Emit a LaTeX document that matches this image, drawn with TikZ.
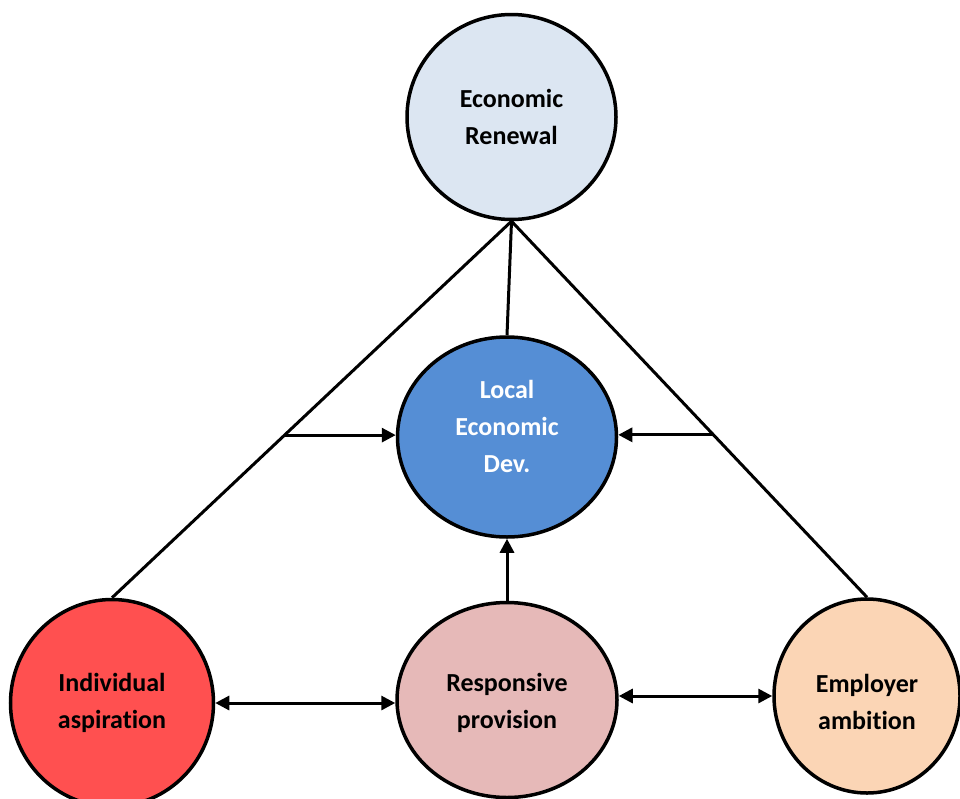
\documentclass[tikz,border=0pt]{standalone}
\usepackage{fontspec}
\setmainfont{Carlito}[Ligatures={NoCommon}]
\usetikzlibrary{shapes.geometric,arrows.meta,calc}
\definecolor{erfill}{HTML}{DCE6F2}
\definecolor{ledfill}{HTML}{558ED5}
\definecolor{iafill}{HTML}{FF5050}
\definecolor{rpfill}{HTML}{E6B9B8}
\definecolor{eafill}{HTML}{FBD5B5}
\tikzset{
  bub/.style={ellipse, draw=black, line width=3.5pt, align=center, inner sep=0pt,
    font=\fontsize{26}{37}\selectfont\bfseries},
  conn/.style={line width=3pt},
  arr/.style={line width=3pt, -{Triangle[length=14pt,width=14pt]}},
  darr/.style={line width=3pt, {Triangle[length=14pt,width=14pt]}-{Triangle[length=14pt,width=14pt]}}
}
\begin{document}
\begin{tikzpicture}[x=1pt,y=-1pt]
\useasboundingbox (0,0) rectangle (960,798);
\node[bub, fill=erfill, minimum width=209pt, minimum height=205pt] (er) at (511.5,117) {Economic\\Renewal};
\node[bub, fill=ledfill, text=white, minimum width=219pt, minimum height=200pt] (led) at (507,437) {Local\\Economic\\Dev.\rule[-22pt]{0pt}{0pt}};
\node[bub, fill=iafill, minimum width=203pt, minimum height=207pt] (ia) at (112,703) {Individual\\aspiration};
\node[bub, fill=rpfill, minimum width=220pt, minimum height=195pt] (rp) at (507,700) {\rule{0pt}{25pt}Responsive\\provision};
\node[bub, fill=eafill, minimum width=186pt, minimum height=194pt] (ea) at (867,696) {\rule{0pt}{31pt}Employer\\ambition};
\draw[conn] (er.south) -- (ia.north);
\draw[conn] (er.south) -- (ea.north);
\draw[conn] (er.south) -- (led.north);
\coordinate (lp) at ($(er.south)!0.568!(ia.north)$);
\coordinate (rpt) at ($(er.south)!0.568!(ea.north)$);
\draw[arr] (lp) -- (lp -| led.west);
\draw[arr] (rpt) -- (rpt -| led.east);
\draw[arr] (rp.north) -- (led.south);
\draw[darr] (ia.east) -- (ia.east -| rp.west);
\draw[darr] (ea.west -| rp.east) -- (ea.west);
\end{tikzpicture}
\end{document}
